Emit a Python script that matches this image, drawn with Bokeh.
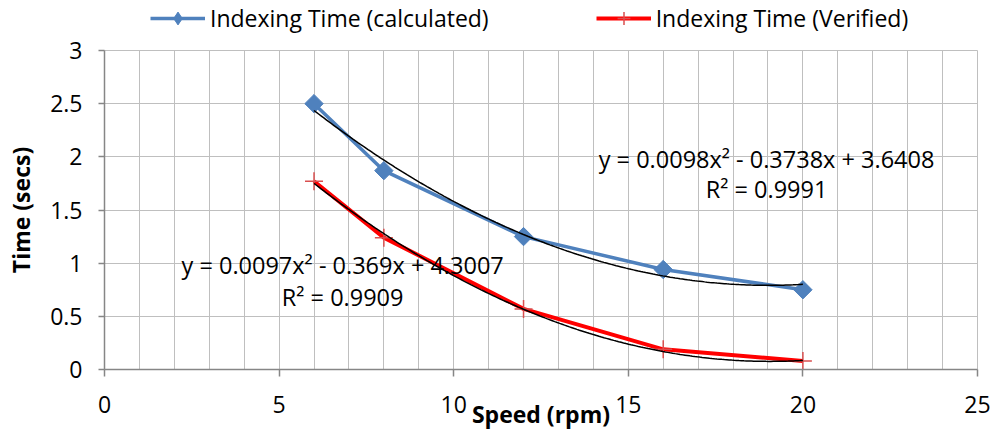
import numpy as np
from bokeh.plotting import figure
from bokeh.layouts import column
from bokeh.models import (Range1d, SingleIntervalTicker, Label, Legend, LegendItem,
                          ColumnDataSource)
from bokeh.embed import file_html
from bokeh.resources import INLINE

# ---- data ----
speed = [6, 8, 12, 16, 20]
time_calculated = [2.50, 1.87, 1.25, 0.94, 0.75]
time_verified = [1.77, 1.24, 0.57, 0.19, 0.08]
# trendline equations as shown (Excel labels), [a, b, c] for a*x^2 + b*x + c
trend_calc_coef = [0.0097, -0.369, 4.3007]
trend_ver_coef = [0.0098, -0.3738, 3.6408]
eq_label_1 = "y = 0.0098x² - 0.3738x + 3.6408"
r2_label_1 = "R² = 0.9991"
eq_label_2 = "y = 0.0097x² - 0.369x + 4.3007"
r2_label_2 = "R² = 0.9909"
series_names = ["Indexing Time (calculated)", "Indexing Time (Verified)"]
x_title = "Speed (rpm)"
y_title = "Time (secs)"

FONT = "Open Sans"
FS = "23px"
BLUE = "#4F81BD"
RED = "#FF0000"
CROSS = "#D94F4F"
GRID = "#BFBFBF"
AXIS = "#868686"

src = ColumnDataSource(dict(x=speed, calc=time_calculated, ver=time_verified))

p = figure(width=992, height=398, output_backend="svg", toolbar_location=None,
           x_range=Range1d(0, 25), y_range=Range1d(0, 3),
           min_border_left=104, min_border_right=15, min_border_top=16,
           min_border_bottom=63)

p.xaxis.ticker = SingleIntervalTicker(interval=5, num_minor_ticks=5)
p.yaxis.ticker = SingleIntervalTicker(interval=0.5, num_minor_ticks=0)
p.xgrid.ticker = p.xaxis.ticker
p.ygrid.ticker = p.yaxis.ticker
p.xgrid.grid_line_color = GRID
p.xgrid.minor_grid_line_color = GRID
p.ygrid.grid_line_color = GRID
p.outline_line_color = GRID
p.background_fill_color = "white"
p.border_fill_color = "white"

for ax in (p.xaxis, p.yaxis):
    ax.axis_line_color = AXIS
    ax.axis_line_width = 1.5
    ax.major_tick_line_color = AXIS
    ax.major_tick_line_width = 1.5
    ax.major_tick_in = 0
    ax.minor_tick_line_color = None
    ax.major_label_text_font = FONT
    ax.major_label_text_font_size = FS
    ax.major_label_text_color = "black"
    ax.axis_label_text_font = FONT
    ax.axis_label_text_font_size = "23px"
    ax.axis_label_text_font_style = "bold"
    ax.axis_label_text_color = "black"
p.xaxis.major_tick_out = 7
p.xaxis.major_label_standoff = 19
p.yaxis.major_tick_out = 6
p.yaxis.major_label_standoff = 16
p.xaxis.axis_label = x_title
p.xaxis.axis_label_standoff = -18
p.yaxis.axis_label = y_title
p.yaxis.axis_label_standoff = 10

# trendlines (from the equations shown on the chart)
xs = np.linspace(min(speed), max(speed), 200)
def poly(c, x):
    return c[0] * x ** 2 + c[1] * x + c[2]

def draw_series(fig, calc_marker, calc_angle):
    a = fig.line("x", "calc", source=src, line_color=BLUE, line_width=3.5)
    b = fig.scatter("x", "calc", source=src, marker=calc_marker, angle=calc_angle,
                    size=13, fill_color=BLUE, line_color=BLUE)
    c = fig.line("x", "ver", source=src, line_color=RED, line_width=4)
    d = fig.scatter("x", "ver", source=src, marker="cross", size=18,
                    line_color=CROSS, line_width=1.5)
    return a, b, c, d

draw_series(p, "square", np.pi / 4)
p.line(xs, poly(trend_calc_coef, xs), line_color="black", line_width=1.5)
p.line(xs, poly(trend_ver_coef, xs), line_color="black", line_width=1.5)

# equation labels
def lab(x, y, t):
    p.add_layout(Label(x=x, y=y, text=t, text_font=FONT, text_font_size="23.5px",
                       text_align="center", text_baseline="middle",
                       text_color="black"))

lab(18.96, 1.98, eq_label_1)
lab(18.96, 1.70, r2_label_1)
lab(6.82, 0.98, eq_label_2)
lab(6.82, 0.68, r2_label_2)

# legend strip above the plot (series drawn outside its visible range)
top = figure(width=992, height=34, output_backend="svg", toolbar_location=None,
             x_range=Range1d(100, 101), y_range=Range1d(100, 101),
             x_axis_type=None, y_axis_type=None, min_border=0)
top.grid.visible = False
top.outline_line_color = None
top.border_fill_color = "white"
top.background_fill_color = "white"
lb, mb, lr, mr = draw_series(top, "diamond", 0)
lg = Legend(items=[LegendItem(label=series_names[0], renderers=[lb, mb]),
                   LegendItem(label=series_names[1], renderers=[lr, mr])],
            location=(46, 0), orientation="horizontal",
            glyph_width=55, glyph_height=32, label_standoff=5, spacing=107,
            padding=0, margin=0, border_line_color=None,
            background_fill_alpha=0, label_text_font=FONT,
            label_text_font_size=FS, label_text_color="black")
top.add_layout(lg, "center")

open("out.html", "w").write(file_html(column(top, p, spacing=0), INLINE))
